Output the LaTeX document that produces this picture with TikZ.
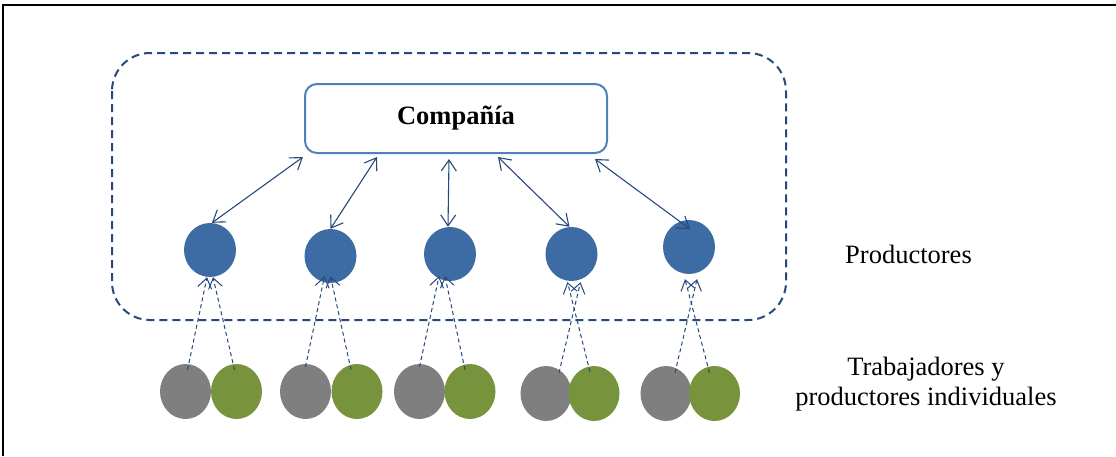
\documentclass[tikz,border=0pt]{standalone}
\usepackage{fontspec}
\setmainfont{Liberation Serif}
\usetikzlibrary{arrows.meta,shapes.geometric,calc}
\definecolor{prodblue}{RGB}{61,107,164}
\definecolor{boxblue}{RGB}{79,129,189}
\definecolor{linkblue}{RGB}{38,72,122}
\definecolor{workgray}{RGB}{127,127,127}
\definecolor{workgreen}{RGB}{119,147,60}
\tikzset{
  frameline/.style={line width=1.3pt,black},
  groupbox/.style={draw=linkblue,line width=2pt,dash pattern=on 8pt off 5pt,rounded corners=38pt},
  compbox/.style={draw=boxblue,line width=2pt,rounded corners=12pt,fill=white,minimum width=302pt,minimum height=69pt,inner sep=0pt},
  prod/.style={ellipse,fill=prodblue,minimum width=52pt,minimum height=54pt,inner sep=0pt},
  worker/.style={ellipse,fill=workgray,minimum width=51pt,minimum height=55pt,inner sep=0pt},
  indiv/.style={ellipse,fill=workgreen,minimum width=51pt,minimum height=55pt,inner sep=0pt},
  link/.style={draw=linkblue,line width=1.1pt,{Straight Barb[length=11pt,width=15pt]}-{Straight Barb[length=11pt,width=15pt]}},
  feed/.style={draw=linkblue,line width=1pt,dash pattern=on 4pt off 3pt,-{Straight Barb[length=10pt,width=14pt]}},
  lbl/.style={font=\fontsize{26.5}{30}\selectfont,inner sep=0pt}
}
\begin{document}
\begin{tikzpicture}[x=1pt,y=-1pt]
\useasboundingbox (0,0) rectangle (1116,456);
\draw[frameline] (3,456) -- (3,5) -- (1116,5);
\draw[groupbox] (112,53) rectangle (786,320);
\node[compbox,lbl] (c) at (456,118.5) {\textbf{Compañía}};
% producers
\node[prod] (p1) at (210,250) {};
\node[prod] (p2) at (330.5,256) {};
\node[prod] (p3) at (450,254) {};
\node[prod] (p4) at (571.5,254) {};
\node[prod] (p5) at (689,247) {};
% workers and individual producers
\node[worker] (g1) at (185.5,391.5) {};
\node[indiv]  (n1) at (236.5,391.5) {};
\node[worker] (g2) at (305.5,391.5) {};
\node[indiv]  (n2) at (357,391.5) {};
\node[worker] (g3) at (419.5,391.5) {};
\node[indiv]  (n3) at (470,391.5) {};
\node[worker] (g4) at (546,393.5) {};
\node[indiv]  (n4) at (594,393.5) {};
\node[worker] (g5) at (666,393.5) {};
\node[indiv]  (n5) at (714.5,393.5) {};
% company links
\draw[link] ($(c.south west)+(-1,3)$) -- ($(p1.north)+(2,0)$);
\draw[link] ($(c.south)+(-79,3)$) -- (p2.north);
\draw[link] ($(c.south)+(-7,5)$) -- ($(p3.north)+(-2,0)$);
\draw[link] ($(c.south)+(42,3)$) -- ($(p4.north)+(-2,0)$);
\draw[link] ($(c.south)+(139,5)$) -- ($(p5.center)+(1,-18)$);
% feeds
\draw[feed] ($(g1.north)+(2,6)$) -- ($(p1.south)+(-3,0)$);
\draw[feed] ($(n1.north)+(-2,6)$) -- ($(p1.south)+(3,0)$);
\draw[feed] ($(g2.north)+(0,3)$) -- ($(p2.south)+(-6,-7)$);
\draw[feed] ($(n2.north)+(-6,6)$) -- ($(p2.south)+(0,-7)$);
\draw[feed] ($(g3.north)+(0,3)$) -- ($(p3.south)+(-11,-5)$);
\draw[feed] ($(n3.north)+(-5,6)$) -- ($(p3.south)+(-5,-5)$);
\draw[feed] ($(g4.north)+(13,7)$) -- ($(p4.south)+(9,1)$);
\draw[feed] ($(n4.north)+(-4,6)$) -- ($(p4.south)+(-4,1)$);
\draw[feed] ($(g5.north)+(9,7)$) -- ($(p5.south)+(8,5)$);
\draw[feed] ($(n5.north)+(-5,7)$) -- ($(p5.south)+(-4,5)$);
% labels
\node[lbl,anchor=base] (lp) at (908.5,263) {Productores};
\node[lbl,align=center] (lw) at (926,384) {Trabajadores y\\productores individuales};
\end{tikzpicture}
\end{document}
